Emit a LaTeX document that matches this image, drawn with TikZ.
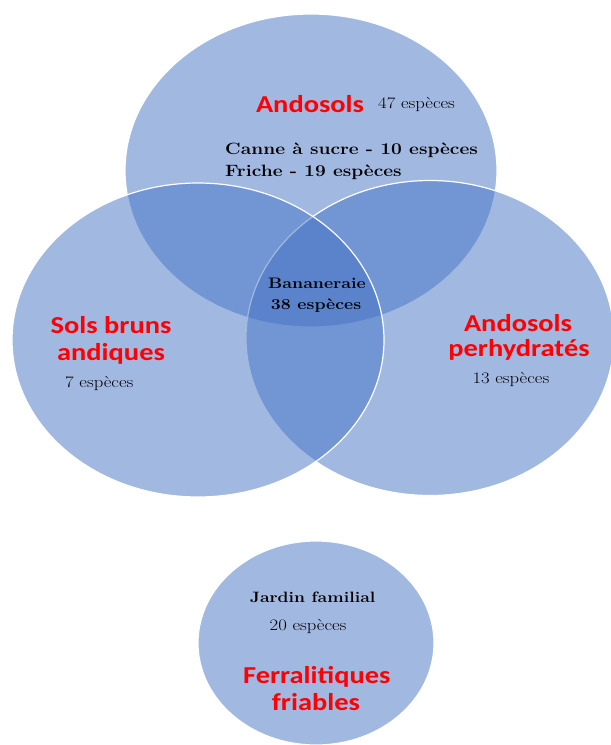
\documentclass[tikz,border=0pt]{standalone}
\usepackage{fontspec}
\usepackage{graphicx}
\newfontfamily\carl{Carlito}
\definecolor{vblue}{HTML}{4472C4}
\newcommand{\sx}[1]{\scalebox{1.17}[1]{#1}}
\begin{document}
\begin{tikzpicture}[x=1pt,y=-1pt,
  setshape/.style={fill=vblue, fill opacity=0.5, draw=white, line width=1.2pt},
  redlbl/.style={text=red, font=\carl\bfseries\fontsize{24.3}{27}\selectfont, inner sep=0pt},
  numlbl/.style={font=\fontsize{16}{19}\selectfont, inner sep=0pt},
  boldlbl/.style={font=\bfseries\fontsize{16.4}{19}\selectfont, inner sep=0pt},
  midbold/.style={font=\bfseries\fontsize{15.2}{18}\selectfont, inner sep=0pt},
  gardenbold/.style={font=\bfseries\fontsize{15}{18}\selectfont, inner sep=0pt}]
\useasboundingbox (0,0) rectangle (611,745);
% sets
\draw[setshape] (311,170.5) ellipse [x radius=186, y radius=156.5];
\draw[setshape] (430,338) ellipse [x radius=184, y radius=157.5];
\draw[setshape] (198,340) ellipse [x radius=186, y radius=157];
\draw[setshape] (316,643) ellipse [x radius=118, y radius=102];
% top set
\node[redlbl, anchor=base] (andosols) at (310,112.7) {\sx{Andosols}};
\node[numlbl, anchor=base west] (n47) at (378,108) {\sx{47 espèces}};
\node[boldlbl, anchor=base west] (canne) at (225,154) {\sx{Canne à sucre - 10 espèces}};
\node[boldlbl, anchor=base west] (friche) at (225,176) {\sx{Friche - 19 espèces}};
% centre
\node[midbold, anchor=base] (banan) at (317,288.3) {\sx{Bananeraie}};
\node[midbold, anchor=base] (b38) at (316,309.3) {\sx{38 espèces}};
% left set
\node[redlbl, anchor=base] (sbr1) at (111,333.3) {\sx{Sols bruns}};
\node[redlbl, anchor=base] (sbr2) at (111,360) {\sx{andiques}};
\node[numlbl, anchor=base west] (n7) at (65,387.3) {\sx{7 espèces}};
% right set
\node[redlbl, anchor=base] (ap1) at (518,331.7) {\sx{Andosols}};
\node[redlbl, anchor=base] (ap2) at (519,356) {\sx{perhydratés}};
\node[numlbl, anchor=base west] (n13) at (472.3,383.3) {\sx{13 espèces}};
% bottom set
\node[gardenbold, anchor=base] (jardin) at (312.6,602.8) {\sx{Jardin familial}};
\node[numlbl, anchor=base west] (n20) at (269.5,630.8) {\sx{20 espèces}};
\node[redlbl, anchor=base] (fer1) at (316.8,683.8) {\sx{Ferralitiques}};
\node[redlbl, anchor=base] (fer2) at (316,710.9) {\sx{friables}};
\end{tikzpicture}
\end{document}
